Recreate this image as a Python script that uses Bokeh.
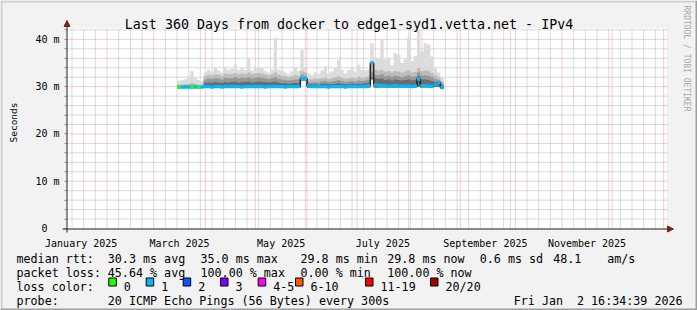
import numpy as np
from bokeh.plotting import figure
from bokeh.models import Range1d, FixedTicker, Arrow, NormalHead
from bokeh.core.properties import value
from bokeh.embed import file_html
from bokeh.resources import INLINE

# ---------------- data ----------------
TITLE = "Last 360 Days from docker to edge1-syd1.vetta.net - IPv4"
Y_LABEL = "Seconds"
WATERMARK = "RRDTOOL / TOBI OETIKER"

# time axis in days since 2025-01-01 00:00
START_DAY = 6.6907    # Tue Jan  7 16:34:39 2025
END_DAY = 366.6907    # Fri Jan  2 16:34:39 2026
Y_MAX = 42.3          # ms

month_start_days = [31, 59, 90, 120, 151, 181, 212, 243, 273, 304, 334, 365]
month_label_days = [15.5, 74.5, 135.5, 196.5, 258.0, 319.0]
month_labels = ["January 2025", "March 2025", "May 2025", "July 2025",
                "September 2025", "November 2025"]
week_days = [d for d in range(10, 367, 7) if d not in month_start_days]

y_major = [0, 10, 20, 30, 40]
y_labels = ["0\u00a0\u00a0", "10 m", "20 m", "30 m", "40 m"]
y_minor = [v for v in range(2, 43, 2) if v % 10]

# 2-day consolidated steps (start day of each step)
STEP = 2.0
step_days = list(range(73, 233, 2))

smoke_top = [
    31.2, 31.4, 31.6, 32.2, 33.3, 31.9, 31.4, 31.2,
    33.0, 33.6, 33.2, 34.0, 33.4, 33.0, 34.2, 33.5,
    33.8, 34.7, 33.6, 34.0, 33.5, 36.1, 33.4, 33.8,
    34.2, 34.0, 33.3, 33.0, 33.6, 40.3, 33.6, 33.4,
    33.0, 32.6, 33.2, 34.0, 33.3, 37.8, 34.0, 32.8,
    32.4, 33.0, 32.6, 33.4, 34.3, 32.8, 33.2, 34.0,
    35.7, 33.6, 32.8, 33.5, 34.0, 33.2, 34.7, 33.6,
    33.4, 33.7, 39.2, 36.1, 36.1, 40.0, 35.8, 36.0,
    34.5, 37.1, 36.8, 35.0, 35.8, 40.3, 35.5, 36.5,
    42.0, 37.5, 39.2, 38.9, 36.4, 34.0, 33.0, 32.0,
]
smoke_p90 = [
    30.4, 30.4, 30.5, 30.6, 30.8, 30.6, 30.4, 30.4,
    32.3, 32.5, 32.4, 32.6, 32.5, 32.3, 32.8, 32.6,
    32.7, 32.9, 32.6, 32.8, 32.7, 33.0, 32.6, 32.8,
    32.9, 32.8, 32.6, 32.4, 32.6, 33.0, 32.5, 32.3,
    32.2, 32.0, 32.2, 32.4, 32.3, 33.3, 33.0, 31.6,
    31.5, 31.7, 31.6, 31.8, 31.9, 31.6, 31.8, 32.0,
    32.2, 31.9, 31.7, 31.8, 32.0, 31.8, 32.1, 31.9,
    32.0, 32.2, 35.5, 33.5, 33.4, 33.6, 33.2, 33.3,
    33.0, 33.3, 33.2, 33.0, 33.2, 33.5, 33.0, 33.1,
    34.0, 33.3, 33.4, 33.3, 32.9, 32.4, 32.0, 31.2,
]
smoke_p75 = [
    30.2, 30.2, 30.3, 30.3, 30.4, 30.3, 30.2, 30.2,
    31.5, 31.7, 31.6, 31.8, 31.7, 31.5, 31.9, 31.7,
    31.8, 32.0, 31.7, 31.9, 31.8, 32.0, 31.7, 31.9,
    32.0, 31.9, 31.8, 31.6, 31.8, 32.0, 31.6, 31.5,
    31.4, 31.3, 31.4, 31.5, 31.5, 32.5, 32.3, 31.0,
    30.9, 31.0, 30.9, 31.1, 31.2, 31.0, 31.1, 31.2,
    31.4, 31.2, 31.0, 31.1, 31.2, 31.1, 31.3, 31.2,
    31.3, 31.5, 33.0, 32.5, 32.4, 32.6, 32.2, 32.3,
    32.1, 32.3, 32.2, 32.0, 32.2, 32.4, 32.1, 32.2,
    33.0, 32.3, 32.4, 32.3, 32.0, 31.6, 31.4, 30.7,
]
smoke_p60 = [
    30.1, 30.1, 30.1, 30.1, 30.2, 30.1, 30.1, 30.1,
    30.8, 30.9, 30.8, 31.0, 30.9, 30.8, 31.0, 30.9,
    31.0, 31.1, 30.9, 31.0, 31.0, 31.1, 30.9, 31.0,
    31.1, 31.0, 31.0, 30.9, 31.0, 31.1, 30.8, 30.7,
    30.7, 30.6, 30.7, 30.8, 30.7, 32.0, 31.9, 30.5,
    30.5, 30.5, 30.4, 30.6, 30.6, 30.5, 30.5, 30.6,
    30.7, 30.6, 30.5, 30.5, 30.6, 30.5, 30.6, 30.6,
    30.7, 30.8, 31.5, 31.8, 31.6, 31.7, 31.4, 31.5,
    31.3, 31.5, 31.4, 31.3, 31.4, 31.5, 31.3, 31.4,
    32.2, 31.5, 31.5, 31.4, 31.2, 31.0, 30.9, 30.3,
]
smoke_min = [
    29.7, 29.7, 29.7, 29.7, 29.7, 29.7, 29.7, 29.7,
    29.7, 29.7, 29.7, 29.7, 29.7, 29.7, 29.7, 29.7,
    29.7, 29.7, 29.7, 29.7, 29.7, 29.7, 29.7, 29.7,
    29.7, 29.7, 29.7, 29.7, 29.7, 29.7, 29.7, 29.7,
    29.7, 29.7, 29.7, 29.7, 29.7, 31.3, 31.3, 29.7,
    29.7, 29.7, 29.7, 29.7, 29.7, 29.7, 29.7, 29.7,
    29.7, 29.7, 29.7, 29.7, 29.7, 29.7, 29.7, 29.7,
    29.7, 29.8, 32.0, 29.8, 29.8, 29.8, 29.8, 29.8,
    29.8, 29.8, 29.8, 29.8, 29.8, 29.8, 29.7, 29.8,
    30.0, 29.8, 29.8, 29.8, 29.8, 30.0, 30.0, 29.6,
]
median_rtt = [
    29.9, 29.9, 29.9, 29.9, 29.9, 29.9, 29.9, 29.9,
    30.0, 30.0, 29.9, 30.0, 30.0, 29.9, 30.0, 30.0,
    30.0, 30.0, 30.0, 29.9, 30.0, 30.0, 30.0, 30.0,
    30.0, 30.0, 29.9, 30.0, 30.0, 30.0, 30.0, 30.0,
    29.9, 30.0, 30.0, 30.0, 30.0, 31.7, 31.7, 30.1,
    30.0, 30.0, 30.0, 30.0, 30.0, 29.9, 30.0, 30.0,
    30.0, 30.0, 29.9, 30.0, 30.0, 30.0, 30.0, 30.0,
    30.0, 30.2, 35.0, 30.4, 30.2, 30.2, 30.1, 30.1,
    30.1, 30.2, 30.1, 30.1, 30.1, 30.1, 30.0, 30.1,
    31.6, 30.2, 30.2, 30.1, 30.1, 30.5, 30.8, 29.8,
]
loss_pings = [
    0, 1, 1, 1, 0, 1, 0, 1,
    1, 1, 1, 1, 1, 1, 1, 1,
    1, 1, 1, 1, 1, 1, 1, 1,
    1, 1, 1, 1, 1, 1, 1, 1,
    1, 1, 1, 1, 1, 1, 1, 1,
    1, 1, 1, 1, 1, 1, 1, 1,
    1, 1, 1, 1, 1, 1, 1, 1,
    1, 1, 1, 1, 1, 1, 1, 1,
    1, 1, 1, 1, 1, 1, 1, 1,
    1, 1, 1, 1, 1, 1, 1, 1,
]

loss_legend = ["0", "1", "2", "3", "4-5", "6-10", "11-19", "20/20"]
loss_legend_colors = ["#26ff00", "#00b8ff", "#0059ff", "#7e00ff",
                      "#ff00ff", "#ff5500", "#ff0000", "#a10000"]

stats_rtt = ["30.3 ms avg", "35.0 ms max", "29.8 ms min", "29.8 ms now",
             "0.6 ms sd", "48.1", "am/s"]
stats_loss = ["45.64 % avg", "100.00 % max", "0.00 % min", "100.00 % now"]
probe_text = "20 ICMP Echo Pings (56 Bytes) every 300s"
date_parts = ["Fri Jan", "2 16:34:39 2026"]

# ---------------- layout helpers (canvas px -> data) ----------------
W, H = 697, 310
FX0, FX1 = 66, 666      # plot area, canvas px
FY0, FY1 = 228, 28


def dx(px):
    return START_DAY + (px - FX0) * (END_DAY - START_DAY) / (FX1 - FX0)


def dy(py):
    return (FY0 - py) * Y_MAX / (FY0 - FY1)


MONO = "DejaVu Sans Mono"
BG = "#f2f2f2"

p = figure(width=W, height=H, x_range=Range1d(dx(0), dx(W)),
           y_range=Range1d(dy(H), dy(0)), output_backend="svg",
           toolbar_location=None, min_border=0,
           background_fill_color=BG, border_fill_color=BG,
           outline_line_color=None)
p.grid.visible = False

# white canvas of the graph area
p.quad(left=[START_DAY], right=[END_DAY], bottom=[0], top=[Y_MAX],
       fill_color="white", line_color=None, level="image")

# grid lines (dotted), drawn under the data
GRID = "#b4b4b4"
MGRID = "#eb9898"
p.segment(x0=dx(FX0 - 2), x1=dx(FX1 + 2), y0=y_minor, y1=y_minor,
          line_color=GRID, line_dash="1 1", line_width=1, level="underlay")
p.segment(x0=week_days, x1=week_days, y0=0, y1=Y_MAX,
          line_color=GRID, line_dash="1 1", line_width=1, level="underlay")
p.segment(x0=dx(FX0 - 2), x1=dx(FX1 + 2), y0=y_major[1:], y1=y_major[1:],
          line_color=MGRID, line_dash="1 1", line_width=1, level="underlay")
p.segment(x0=month_start_days, x1=month_start_days, y0=0, y1=Y_MAX,
          line_color=MGRID, line_dash="1 1", line_width=1, level="underlay")

# x axis (fixed at y = 0, labels centred in the months)
xa = p.xaxis[0]
xa.fixed_location = 0
xa.bounds = (START_DAY, END_DAY)
xa.ticker = FixedTicker(ticks=month_label_days, minor_ticks=[])
xa.major_label_overrides = {d: t for d, t in zip(month_label_days, month_labels)}
xa.axis_line_color = None
xa.major_tick_line_color = None
xa.minor_tick_line_color = None
xa.major_label_standoff = 3
xa.major_label_text_font = MONO
xa.major_label_text_font_size = "10px"
xa.major_label_text_color = "black"

# y axis (fixed at the start of the time range)
ya = p.yaxis[0]
ya.fixed_location = START_DAY
ya.bounds = (0, Y_MAX)
ya.ticker = FixedTicker(ticks=y_major, minor_ticks=y_minor)
ya.major_label_overrides = {v: t for v, t in zip(y_major, y_labels)}
ya.axis_line_color = None
ya.major_tick_out = 2
ya.major_tick_in = 0
ya.minor_tick_out = 2
ya.minor_tick_in = 0
ya.major_tick_line_color = "#e08080"
ya.minor_tick_line_color = "#a0a0a0"
ya.major_label_standoff = 5
ya.major_label_text_font = MONO
ya.major_label_text_font_size = "10px"
ya.major_label_text_color = "black"

# ---------------- smoke ----------------
edges = np.array(step_days + [step_days[-1] + STEP], dtype=float)


def ext(a):
    a = np.asarray(a, dtype=float)
    return np.append(a, a[-1])


for arr, col in ((smoke_top, "#dcdcdc"), (smoke_p90, "#bcbcbc"),
                 (smoke_p75, "#979797"), (smoke_p60, "#6c6c6c")):
    p.varea_step(x=edges, y1=ext(smoke_min), y2=ext(arr), step_mode="after",
                 fill_color=col)

med = ext(median_rtt)
p.step(x=edges, y=med, mode="after", line_color="#202020", line_width=1.5)

BAND = 0.34
p.varea_step(x=edges, y1=med - BAND, y2=med + BAND, step_mode="after",
             fill_color=loss_legend_colors[1])
g_idx = [i for i, l in enumerate(loss_pings) if l == 0]
p.quad(left=[step_days[i] for i in g_idx],
       right=[step_days[i] + STEP for i in g_idx],
       bottom=[median_rtt[i] - BAND for i in g_idx],
       top=[median_rtt[i] + BAND for i in g_idx],
       fill_color=loss_legend_colors[0], line_color=None)

# ---------------- axis arrows ----------------
p.add_layout(Arrow(x_start=dx(62), y_start=dy(228.5), x_end=dx(673), y_end=dy(228.5),
                   line_color="#1f1f1f", line_width=1,
                   end=NormalHead(size=6, fill_color="#801f1f", line_color="#801f1f")))
p.add_layout(Arrow(x_start=dx(66.5), y_start=dy(232), x_end=dx(66.5), y_end=dy(20),
                   line_color="#1f1f1f", line_width=1,
                   end=NormalHead(size=6, fill_color="#801f1f", line_color="#801f1f")))

# ---------------- texts ----------------
def lab(texts, pxs, py, size="11.7px", align="left", angle=0.0, color="black"):
    p.text(x=[dx(v) for v in pxs], y=[dy(py)] * len(pxs), text=list(texts),
           text_font=value(MONO), text_font_size=value(size),
           text_align=align, text_baseline="alphabetic", angle=angle,
           text_color=color)


lab([TITLE], [348.5], 24, size="13.3px", align="center")
lab([Y_LABEL], [13], 122, size="9.5px", align="center", angle=np.pi / 2)
lab([WATERMARK], [685.5], 5, size="8px", align="left", angle=-np.pi / 2,
    color="#a8a8a8")

ROW = [258, 272, 286, 300]
LX = 16
lab(["median rtt:"] + stats_rtt,
    [LX, 107.3, 200, 300, 386.7, 479.3, 552.7, 606.7], ROW[0])
lab(["packet loss:"] + stats_loss, [LX, 107.3, 200, 300, 386.7], ROW[1])
box_x = [108.3, 145.7, 182.7, 220, 257.7, 295, 365, 430]
lab(["loss color:"] + loss_legend, [LX] + [b + 15 for b in box_x], ROW[2])
p.quad(left=[dx(b) for b in box_x], right=[dx(b + 7.5) for b in box_x],
       top=dy(277.5), bottom=dy(285.5), fill_color=loss_legend_colors,
       line_color="black", line_width=1)
lab(["probe:", probe_text] + date_parts, [LX, 107.3, 513.3, 576.5], ROW[3])

# ---------------- 3D border ----------------
p.quad(left=[dx(0), dx(0), dx(0), dx(W - 2)],
       right=[dx(W), dx(2), dx(W), dx(W)],
       top=[dy(0), dy(0), dy(H - 2), dy(0)],
       bottom=[dy(2), dy(H), dy(H), dy(H)],
       fill_color=["#cfcfcf", "#cfcfcf", "#9e9e9e", "#9e9e9e"],
       line_color=None)

open("out.html", "w").write(file_html(p, INLINE))
